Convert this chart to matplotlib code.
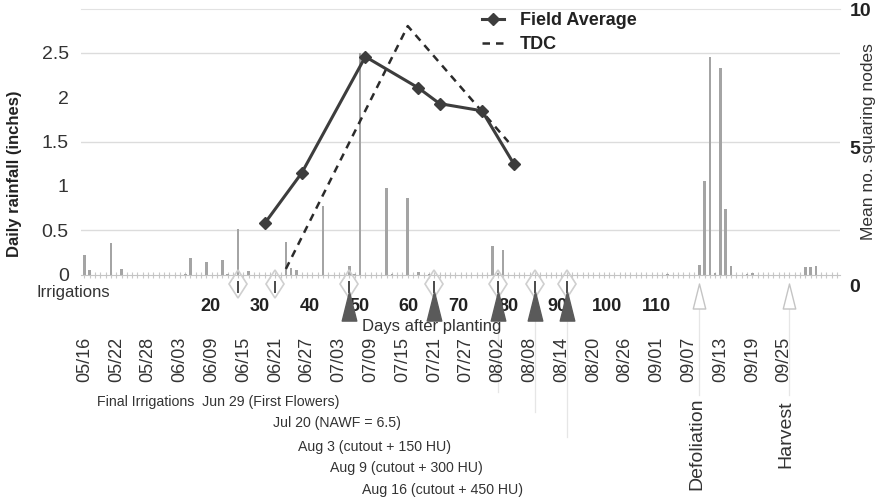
import datetime
import matplotlib
matplotlib.use("Agg")
import matplotlib.pyplot as plt
from matplotlib.path import Path
from matplotlib.ticker import MultipleLocator
from matplotlib import font_manager

# ---------------- data ----------------
YEAR = 2001
START = "05/16"

rain_dates = ["05/16", "05/17", "05/21", "05/23", "06/04", "06/05", "06/08",
              "06/11", "06/12", "06/14", "06/16", "06/23", "06/24", "06/25",
              "06/30", "07/05", "07/06", "07/07", "07/12", "07/13", "07/16",
              "07/18", "07/20", "08/01", "08/02", "08/03", "09/03", "09/09",
              "09/10", "09/11", "09/12", "09/13", "09/14", "09/15", "09/18",
              "09/19", "09/29", "09/30", "10/01"]
rain_inches = [0.22, 0.05, 0.36, 0.06, 0.01, 0.19, 0.14,
               0.16, 0.01, 0.51, 0.04, 0.37, 0.07, 0.05,
               0.77, 0.10, 0.01, 2.50, 0.97, 0.01, 0.86,
               0.03, 0.01, 0.32, 0.02, 0.28, 0.01, 0.11,
               1.05, 2.45, 0.02, 2.33, 0.74, 0.10, 0.01,
               0.02, 0.08, 0.08, 0.10]

field_dates = ["06/19", "06/26", "07/08", "07/18", "07/22", "07/30", "08/05"]
field_nodes = [2.25, 4.08, 8.29, 7.16, 6.59, 6.33, 4.41]

tdc_dates = ["06/23", "07/16", "08/04"]
tdc_nodes = [0.6, 9.4, 5.2]

irrigation_dates = ["06/14", "06/21", "07/05", "07/21", "08/02", "08/09", "08/15"]
final_irrigation_dates = ["07/05", "07/21", "08/02", "08/09", "08/15"]
defoliation_date = "09/09"
harvest_date = "09/26"

date_tick_labels = ["05/16", "05/22", "05/28", "06/03", "06/09", "06/15",
                    "06/21", "06/27", "07/03", "07/09", "07/15", "07/21",
                    "07/27", "08/02", "08/08", "08/14", "08/20", "08/26",
                    "09/01", "09/07", "09/13", "09/19", "09/25"]
dap_ticks = [20, 30, 40, 50, 60, 70, 80, 90, 100, 110]

rain_yticks = [0, 0.5, 1, 1.5, 2, 2.5]
rain_yticklabels = ["0", "0.5", "1", "1.5", "2", "2.5"]
node_yticks = [0, 5, 10]

final_notes = ["Final Irrigations  Jun 29 (First Flowers)",
               "Jul 20 (NAWF = 6.5)",
               "Aug 3 (cutout + 150 HU)",
               "Aug 9 (cutout + 300 HU)",
               "Aug 16 (cutout + 450 HU)"]

# day-after-planting scale relative to the calendar axis
PLANTING_OFFSET = 4.97
DAP_PER_DAY = 1.0676


def day_of(md):
    m, d = (int(v) for v in md.split("/"))
    m0, d0 = (int(v) for v in START.split("/"))
    return (datetime.date(YEAR, m, d) - datetime.date(YEAR, m0, d0)).days


def days(seq):
    return [day_of(s) for s in seq]


# ---------------- fonts ----------------
names = {f.name for f in font_manager.fontManager.ttflist}
BASE = "Liberation Sans" if "Liberation Sans" in names else "DejaVu Sans"
NARROW = "Liberation Sans Narrow" if "Liberation Sans Narrow" in names else BASE
NOTE_SIZE = 11.5 if NARROW != BASE else 10.2
plt.rcParams["font.family"] = [BASE, "DejaVu Sans"]

TXT = "#333333"
W, H = 882, 503


def fx(px):
    return px / W


def fy(py):
    return 1 - py / H


fig = plt.figure(figsize=(8.82, 5.03), dpi=100)

# rainfall axes (left scale)
ax = fig.add_axes([fx(81.3), fy(274.5), fx(758.4), 266 / H])
ax.set_xlim(-0.6, 142.5)
ax.set_ylim(0, 3.0)
for s in ("left", "right"):
    ax.spines[s].set_visible(False)
ax.spines["top"].set_color("#e2e2e2")
ax.spines["bottom"].set_color("#c4c4c4")
ax.set_facecolor("none")

for g in (0.5, 1.5, 2.5):
    ax.axhline(g, color="#dcdcdc", lw=1.0, zorder=0)

ax.bar(days(rain_dates), rain_inches, width=0.5, color="#a4a4a4",
       edgecolor="none", zorder=2)

ax.set_yticks(rain_yticks, rain_yticklabels)
ax.tick_params(axis="y", length=0, pad=9, labelsize=14, labelcolor=TXT)

ax.set_xticks(days(date_tick_labels), date_tick_labels, rotation=90, va="top")
ax.xaxis.set_minor_locator(MultipleLocator(1))
ax.tick_params(axis="x", which="both", direction="inout", length=5,
               color="#c8c8c8", width=0.8)
ax.tick_params(axis="x", which="major", pad=42.5, labelsize=13, labelcolor=TXT)

# days-after-planting scale
dap = ax.secondary_xaxis(
    -0.082,
    functions=(lambda d: (d - PLANTING_OFFSET) * DAP_PER_DAY,
               lambda p: p / DAP_PER_DAY + PLANTING_OFFSET))
dap.set_xticks(dap_ticks)
dap.tick_params(length=0, pad=1, labelsize=13)
for lbl in dap.get_xticklabels():
    lbl.set_fontweight("bold")
    lbl.set_color("#222222")
dap.spines["bottom"].set_visible(False)

# squaring-node axes (right scale)
ax2 = fig.add_axes([fx(81.3), fy(285.5), fx(758.4), 276 / H])
ax2.set_xlim(ax.get_xlim())
ax2.set_ylim(0, 10)
ax2.patch.set_visible(False)
for s in ax2.spines.values():
    s.set_visible(False)
ax2.xaxis.set_visible(False)
ax2.yaxis.tick_right()
ax2.set_yticks(node_yticks)
ax2.tick_params(axis="y", length=0, pad=7, labelsize=14, labelcolor="#222222")
for lbl in ax2.get_yticklabels():
    lbl.set_fontweight("bold")

fa, = ax2.plot(days(field_dates), field_nodes, color="#3d3d3d", lw=2.2,
               marker="D", ms=6, zorder=5, clip_on=False)
td, = ax2.plot(days(tdc_dates), tdc_nodes, color="#2b2b2b", lw=1.8,
               dashes=(3, 2.4), zorder=4, clip_on=False)

leg = ax2.legend([fa, td], ["Field Average", "TDC"], loc="upper left",
                 bbox_to_anchor=(fx(482), fy(12)), bbox_transform=fig.transFigure,
                 frameon=False, handlelength=1.2, handletextpad=0.9,
                 labelspacing=0.38, borderpad=0, borderaxespad=0,
                 prop={"weight": "bold", "size": 13})
for t in leg.get_texts():
    t.set_color("#222222")

# irrigation and field-operation markers below the baseline
tall_tri = Path([(-0.5, -1.0), (0.5, -1.0), (0.0, 1.0), (-0.5, -1.0)],
                [Path.MOVETO, Path.LINETO, Path.LINETO, Path.CLOSEPOLY])


def ypx(py):
    # vertical pixel position -> rainfall data units
    return (274.5 - py) / 88.67


irr = days(irrigation_dates)
ax.plot(irr, [ypx(284)] * len(irr), ls="none", marker="d", ms=14.5,
        mfc="none", mec="#cfcfcf", mew=1.2, clip_on=False, zorder=3)
ax.plot(irr, [ypx(287)] * len(irr), ls="none", marker="|", ms=9,
        mec="#4a4a4a", mew=1.4, clip_on=False, zorder=4)

fin = days(final_irrigation_dates)
ax.plot(fin, [ypx(306)] * len(fin), ls="none", marker=tall_tri, ms=21,
        mfc="#5a5a5a", mec="#5a5a5a", clip_on=False, zorder=4)

ops = days([defoliation_date, harvest_date])
ax.plot(ops, [ypx(296)] * len(ops), ls="none", marker=tall_tri, ms=18,
        mfc="white", mec="#c4c4c4", mew=1.0, clip_on=False, zorder=4)

# faint leader lines from the markers down to their notes
for d, y_end in zip(fin[2:], (392, 412, 437)):
    ax.plot([d, d], [ypx(320), ypx(y_end)], color="#e6e6e6", lw=0.9,
            clip_on=False, zorder=1)
for d in ops:
    ax.plot([d, d], [ypx(308), ypx(395)], color="#e6e6e6", lw=0.9,
            clip_on=False, zorder=1)

# text annotations
fig.text(fx(15), fy(174), "Daily rainfall (inches)", rotation=90,
         ha="center", va="center", fontsize=12, fontweight="bold", color="#222222")
fig.text(fx(868), fy(142), "Mean no. squaring nodes", rotation=90,
         ha="center", va="center", fontsize=12.5, color=TXT)
fig.text(fx(37), fy(293), "Irrigations", ha="left", va="center",
         fontsize=12, color=TXT)
fig.text(fx(362), fy(327), "Days after planting", ha="left", va="center",
         fontsize=12, color=TXT)

note_pos = [(97, 402), (273, 423), (298, 447), (330, 468), (362, 490)]
for (x0, y0), note in zip(note_pos, final_notes):
    fig.text(fx(x0), fy(y0), note, ha="left", va="center",
             fontsize=NOTE_SIZE, family=[NARROW, BASE], color=TXT)

fig.text(fx(697), fy(398), "Defoliation", rotation=90, ha="center", va="top",
         fontsize=14, color=TXT)
fig.text(fx(786), fy(400), "Harvest", rotation=90, ha="center", va="top",
         fontsize=14, color=TXT)

fig.savefig("out.png", dpi=100)
